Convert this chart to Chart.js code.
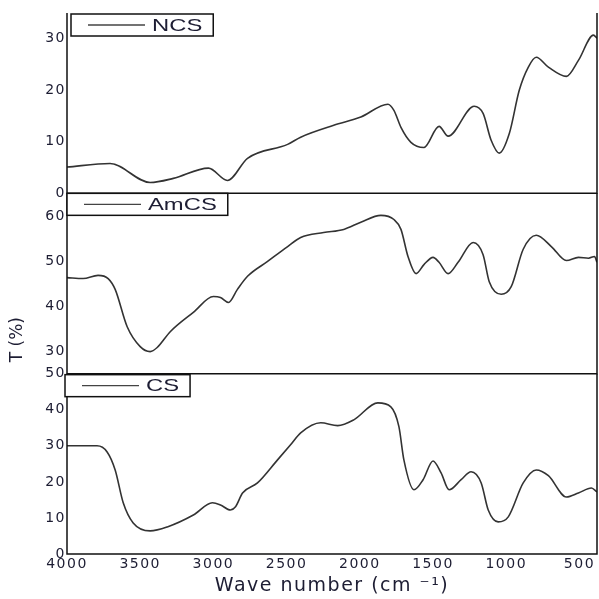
<!DOCTYPE html>
<html lang="en">

<head>
  <meta charset="UTF-8" />
  <title>FTIR spectra: NCS, AmCS, CS</title>
  <script src="https://cdn.jsdelivr.net/npm/chart.js"></script>
  <style>
    body {
      margin: 0;
      background: #fff;
    }

    #chart-container {
      width: 599px;
      height: 599px;
    }
  </style>
</head>

<body>

  <div id="chart-container">
    <canvas id="ftirChart"></canvas>
  </div>

  <script>
    // Wave number (cm-1) and transmittance (%), one pair of arrays per sample
    const ncsWave = [4000, 3706, 3432, 3274, 3034, 2904, 2767, 2493, 2404, 2178, 1993, 1808, 1767, 1719, 1651, 1562, 1459, 1397, 1219, 1158, 1103, 1048, 979, 911, 849, 795, 712, 589, 507, 404, 380];
    const ncsT = [5.1, 5.8, 2.1, 2.9, 4.9, 2.5, 6.8, 9.5, 10.9, 13.2, 14.8, 17.3, 16.1, 12.8, 9.9, 8.9, 13.0, 11.1, 16.9, 15.5, 10.3, 7.8, 11.6, 20.0, 24.5, 26.4, 24.5, 22.7, 25.8, 30.7, 30.1];

    const amcsWave = [4000, 3890, 3788, 3719, 3671, 3589, 3500, 3432, 3384, 3295, 3137, 3000, 2952, 2897, 2836, 2767, 2630, 2493, 2404, 2247, 2110, 1993, 1856, 1767, 1719, 1671, 1616, 1562, 1500, 1459, 1397, 1329, 1226, 1158, 1116, 1034, 966, 884, 795, 692, 589, 507, 438, 397, 380];
    const amcsT = [46.3, 46.1, 46.8, 46.1, 43.7, 35.4, 31.0, 29.9, 30.8, 34.3, 38.6, 42.1, 41.9, 40.8, 43.7, 46.6, 49.9, 53.2, 55.2, 56.3, 57.0, 58.6, 60.1, 59.2, 57.0, 51.0, 47.2, 49.2, 50.8, 49.7, 47.2, 49.7, 54.1, 51.4, 45.4, 42.6, 44.3, 52.6, 55.7, 53.2, 50.1, 50.8, 50.6, 51.0, 49.7];

    const csWave = [4000, 3795, 3726, 3671, 3616, 3548, 3432, 3315, 3137, 3007, 2952, 2884, 2849, 2801, 2699, 2562, 2473, 2404, 2267, 2151, 2041, 1877, 1788, 1733, 1699, 1630, 1568, 1500, 1445, 1390, 1308, 1240, 1171, 1123, 1055, 986, 884, 795, 712, 589, 507, 418, 380];
    const csT = [30.0, 30.0, 28.3, 23.3, 14.2, 8.6, 6.4, 7.5, 10.8, 14.2, 13.6, 12.2, 13.1, 16.9, 19.7, 26.1, 30.3, 33.6, 36.4, 35.6, 37.2, 41.9, 40.8, 35.3, 26.1, 17.8, 20.6, 25.8, 22.5, 17.8, 20.6, 22.8, 19.7, 12.2, 8.9, 10.3, 19.7, 23.3, 21.7, 15.8, 16.9, 18.3, 17.2];

    // Tick labels
    const xTicks = [4000, 3500, 3000, 2500, 2000, 1500, 1000, 500];
    const ncsTicks = [0, 10, 20, 30];
    const amcsTicks = [30, 40, 50, 60];
    const csTicks = [0, 10, 20, 30, 40, 50];

    const TEXT = '#1d1d33';
    const LINE = '#333';
    const tickFont = { family: '"DejaVu Sans", sans-serif', size: 14 };

    const toPoints = (xs, ys) => xs.map((x, i) => ({ x: x, y: ys[i] }));

    // y axis for one stacked panel
    function panelAxis(min, max, ticks) {
      return {
        type: 'linear',
        position: 'left',
        stack: 'spectra',
        stackWeight: 1,
        min: min,
        max: max,
        grid: { display: false, drawTicks: false },
        border: { display: false },
        afterBuildTicks: s => { s.ticks = ticks.map(v => ({ value: v })); },
        afterFit: s => { s.width = 67; },
        ticks: { padding: 1, color: TEXT, font: tickFont, autoSkip: false, callback: v => String(v) }
      };
    }

    // Frames round each panel, boxed legends and the rotated y title
    const panelFrame = {
      id: 'panelFrame',
      beforeLayout(chart) { chart.ctx.letterSpacing = '1.5px'; },
      beforeDraw(chart) { chart.ctx.letterSpacing = '1.5px'; },
      afterDraw(chart) {
        const { ctx, chartArea } = chart;
        ctx.save();
        ctx.letterSpacing = '0px';
        ctx.strokeStyle = '#111';
        ctx.lineWidth = 1.5;

        ['yNCS', 'yAmCS', 'yCS'].forEach(id => {
          const s = chart.scales[id];
          ctx.beginPath();
          ctx.moveTo(chartArea.left, s.top);
          ctx.lineTo(chartArea.left, s.bottom);
          ctx.lineTo(chartArea.right, s.bottom);
          ctx.lineTo(chartArea.right, s.top);
          ctx.stroke();
        });

        chart.data.datasets.forEach(ds => {
          const s = chart.scales[ds.yAxisID];
          const x0 = chartArea.left + ds.legendBox.dx;
          const y0 = s.top + ds.legendBox.dy;
          ctx.font = '17px "Liberation Sans", Arial, sans-serif';
          const tw = ctx.measureText(ds.label).width * 1.4;
          const w = 17 + 57 + 7 + tw + 11;
          const h = 22;
          ctx.fillStyle = '#fff';
          ctx.fillRect(x0, y0, w, h);
          ctx.strokeStyle = '#111';
          ctx.lineWidth = 1.5;
          ctx.strokeRect(x0, y0, w, h);
          ctx.beginPath();
          ctx.strokeStyle = '#444';
          ctx.lineWidth = 1.3;
          ctx.moveTo(x0 + 17, y0 + h / 2);
          ctx.lineTo(x0 + 74, y0 + h / 2);
          ctx.stroke();
          ctx.save();
          ctx.translate(x0 + 81, y0 + h / 2 + 1);
          ctx.scale(1.4, 1);
          ctx.fillStyle = TEXT;
          ctx.textBaseline = 'middle';
          ctx.fillText(ds.label, 0, 0);
          ctx.restore();
        });

        const mid = chart.scales.yAmCS;
        ctx.translate(18, mid.bottom - 34);
        ctx.rotate(-Math.PI / 2);
        ctx.font = '17px "DejaVu Sans", sans-serif';
        ctx.fillStyle = TEXT;
        ctx.textAlign = 'center';
        ctx.textBaseline = 'middle';
        ctx.fillText('T (%)', 0, 0);
        ctx.restore();
      }
    };

    const dataset = (label, xs, ys, axis, dx, dy) => ({
      label: label,
      data: toPoints(xs, ys),
      yAxisID: axis,
      borderColor: LINE,
      borderWidth: 1.6,
      pointRadius: 0,
      fill: false,
      cubicInterpolationMode: 'monotone',
      legendBox: { dx: dx, dy: dy }
    });

    new Chart(document.getElementById('ftirChart'), {
      type: 'line',
      data: {
        datasets: [
          dataset('NCS', ncsWave, ncsT, 'yNCS', 4, 1),
          dataset('AmCS', amcsWave, amcsT, 'yAmCS', 0, 0),
          dataset('CS', csWave, csT, 'yCS', -2, 1)
        ]
      },
      options: {
        responsive: true,
        maintainAspectRatio: false,
        animation: false,
        layout: { padding: { top: 13, right: 2, left: 0, bottom: 0 } },
        plugins: {
          legend: { display: false },
          tooltip: { enabled: false }
        },
        scales: {
          x: {
            type: 'linear',
            reverse: true,
            min: 380,
            max: 4000,
            grid: { display: false, drawTicks: false },
            border: { display: false },
            afterBuildTicks: s => { s.ticks = xTicks.map(v => ({ value: v })); },
            afterFit: s => { s.height = 45; },
            ticks: {
              padding: 2, color: TEXT, font: tickFont, maxRotation: 0, autoSkip: false,
              callback: v => String(v)
            },
            title: {
              display: true,
              text: 'Wave number (cm \u207B\u00B9)',
              color: TEXT,
              font: { family: '"DejaVu Sans", sans-serif', size: 19 },
              padding: { top: 0, bottom: 2 }
            }
          },
          // later axes in a left stack sit higher, so CS comes first
          yCS: panelAxis(0, 50, csTicks),
          yAmCS: panelAxis(25, 65, amcsTicks),
          yNCS: panelAxis(0, 35, ncsTicks)
        }
      },
      plugins: [panelFrame]
    });
  </script>

</body>

</html>
